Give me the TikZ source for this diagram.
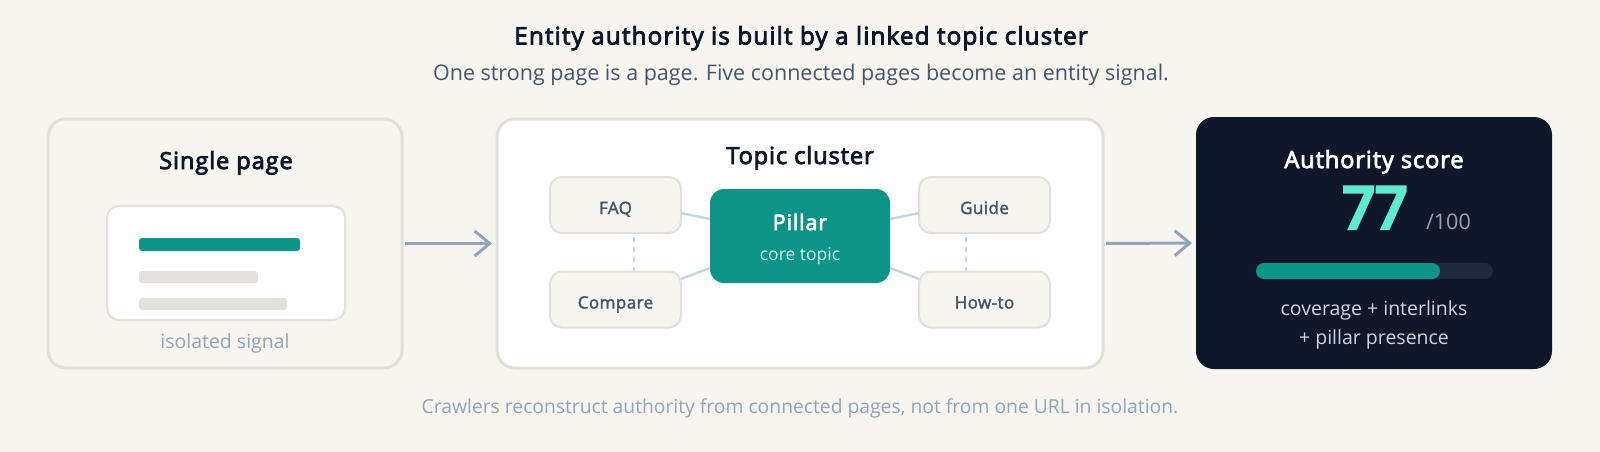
\documentclass[tikz,border=0pt]{standalone}
\usepackage{fontspec}
\setmainfont{Open Sans}[AutoFakeBold=2.5]
\newfontfamily\hdfont{Open Sans}[FakeBold=3.5, LetterSpace=4]
\newfontfamily\ttlfont{Open Sans}[FakeBold=3.5, LetterSpace=4.8]
\newfontfamily\sbfont{Open Sans}[FakeBold=2, LetterSpace=2.5]
\newfontfamily\numfont{Open Sans}[FakeBold=7]
\usetikzlibrary{arrows.meta,calc}
\definecolor{bg}{HTML}{F6F5F0}
\definecolor{pstroke}{HTML}{E2E0DA}
\definecolor{tealc}{HTML}{0D9488}
\definecolor{slatenine}{HTML}{0F172A}
\definecolor{slatesix}{HTML}{475569}
\definecolor{slatefour}{HTML}{94A3B8}
\definecolor{slatethree}{HTML}{CBD5E1}
\definecolor{slateeight}{HTML}{1E293B}
\definecolor{mint}{HTML}{5EEAD4}
\definecolor{mintlight}{HTML}{CCFBF1}
\definecolor{barg}{HTML}{E2E1DC}
\newcommand{\fs}[1]{\fontsize{#1}{#1}\selectfont}
\begin{document}
\begin{tikzpicture}[x=1pt,y=-1pt,
  panel/.style={draw=pstroke, line width=3pt, rounded corners=18pt, outer sep=0pt, inner sep=0pt},
  tbox/.style={draw=pstroke, fill=bg, line width=2pt, rounded corners=12pt, minimum width=131pt, minimum height=56pt, outer sep=0pt, inner sep=0pt, text height=18pt, text depth=0pt, font=\sbfont\fs{17}, text=slatesix},
  link/.style={draw=slatethree, line width=2.5pt},
  dlink/.style={draw=slatethree, line width=2pt, dash pattern=on 5pt off 5pt},
  flow/.style={draw=slatefour, line width=3pt, -{Straight Barb[length=15pt,width=25pt]}},
  lbl/.style={anchor=base, inner sep=0pt, outer sep=0pt}]
\useasboundingbox (0,0) rectangle (1600,452);
\fill[bg] (0,0) rectangle (1600,452);

% title
\node[lbl, font=\ttlfont\fs{24.2}, text=slatenine] (title) at (801,44.5) {Entity authority is built by a linked topic cluster};
\node[lbl, font=\fs{21.5}, text=slatesix] (subtitle) at (801,80.5) {One strong page is a page. Five connected pages become an entity signal.};

% left panel
\node[panel, fill=bg, minimum width=354pt, minimum height=249pt] (left) at (225,243.5) {};
\node[lbl, font=\hdfont\fs{23.5}, text=slatenine] (lefttitle) at (226,169) {Single page};
\node[draw=pstroke, fill=white, line width=2pt, rounded corners=12pt, minimum width=238pt, minimum height=114pt, outer sep=0pt] (card) at (226,263) {};
\fill[tealc, rounded corners=3pt] (139,238) rectangle (300,251);
\fill[barg, rounded corners=3pt] (139,271) rectangle (258,283);
\fill[barg, rounded corners=3pt] (139,298) rectangle (287,310);
\node[lbl, font=\fs{19.5}, text=slatefour] (iso) at (225,348) {isolated signal};

% middle panel
\node[panel, fill=white, minimum width=606pt, minimum height=249pt] (mid) at (800,243.5) {};
\node[lbl, font=\hdfont\fs{23.5}, text=slatenine] (midtitle) at (800,164) {Topic cluster};
\node[tbox] (faq) at (615.5,205) {FAQ};
\node[tbox] (compare) at (615.5,299.5) {Compare};
\node[tbox] (guide) at (984.5,205) {Guide};
\node[tbox] (howto) at (984.5,299.5) {How-to};
\node[fill=tealc, rounded corners=14pt, minimum width=180pt, minimum height=94pt, outer sep=0pt, inner sep=0pt] (pillar) at (800,236) {};
\node[lbl, font=\hdfont\fs{21.5}, text=white] (pillart) at (800,230) {Pillar};
\node[lbl, font=\fs{17.5}, text=mintlight] (pillars) at (800,260) {core topic};

\draw[link] ($(faq.east)+(0,8)$) -- ($(pillar.west)+(0,-17)$);
\draw[link] ($(compare.east)+(0,-20.5)$) -- ($(pillar.west)+(0,32)$);
\draw[link] ($(guide.west)+(0,8)$) -- ($(pillar.east)+(0,-17)$);
\draw[link] ($(howto.west)+(0,-20.5)$) -- ($(pillar.east)+(0,32)$);
\draw[dlink] ($(faq.south)+(18.5,4)$) -- ($(compare.north)+(18.5,-2)$);
\draw[dlink] ($(guide.south)+(-18.5,4)$) -- ($(howto.north)+(-18.5,-2)$);

% right panel
\node[fill=slatenine, rounded corners=18pt, minimum width=356pt, minimum height=252pt, outer sep=0pt, inner sep=0pt] (score) at (1374,243) {};
\node[lbl, font=\hdfont\fs{23.5}, text=white] (scoretitle) at (1374,168) {Authority score};
\node[lbl, font=\numfont\fs{57}, text=mint] (num) at (1375,228) {77};
\node[lbl, anchor=base west, font=\fs{21.5}, text=slatefour] (den) at (1426,229) {/100};
\fill[slateeight, rounded corners=8pt] (1256,263) rectangle (1493,279);
\fill[tealc, rounded corners=8pt] (1256,263) rectangle (1440,279);
\node[lbl, font=\fs{19.5}, text=slatethree] (cov1) at (1374,315) {coverage + interlinks};
\node[lbl, font=\fs{19.5}, text=slatethree] (cov2) at (1374,344) {+ pillar presence};

% flow arrows
\draw[flow, shorten <=3pt, shorten >=5pt] (left.east) -- (mid.west);
\draw[flow, shorten <=3pt, shorten >=4pt] (mid.east) -- (score.west);

% footer
\node[lbl, font=\fs{19.3}, text=slatefour] (foot) at (800,413) {Crawlers reconstruct authority from connected pages, not from one URL in isolation.};
\end{tikzpicture}
\end{document}
